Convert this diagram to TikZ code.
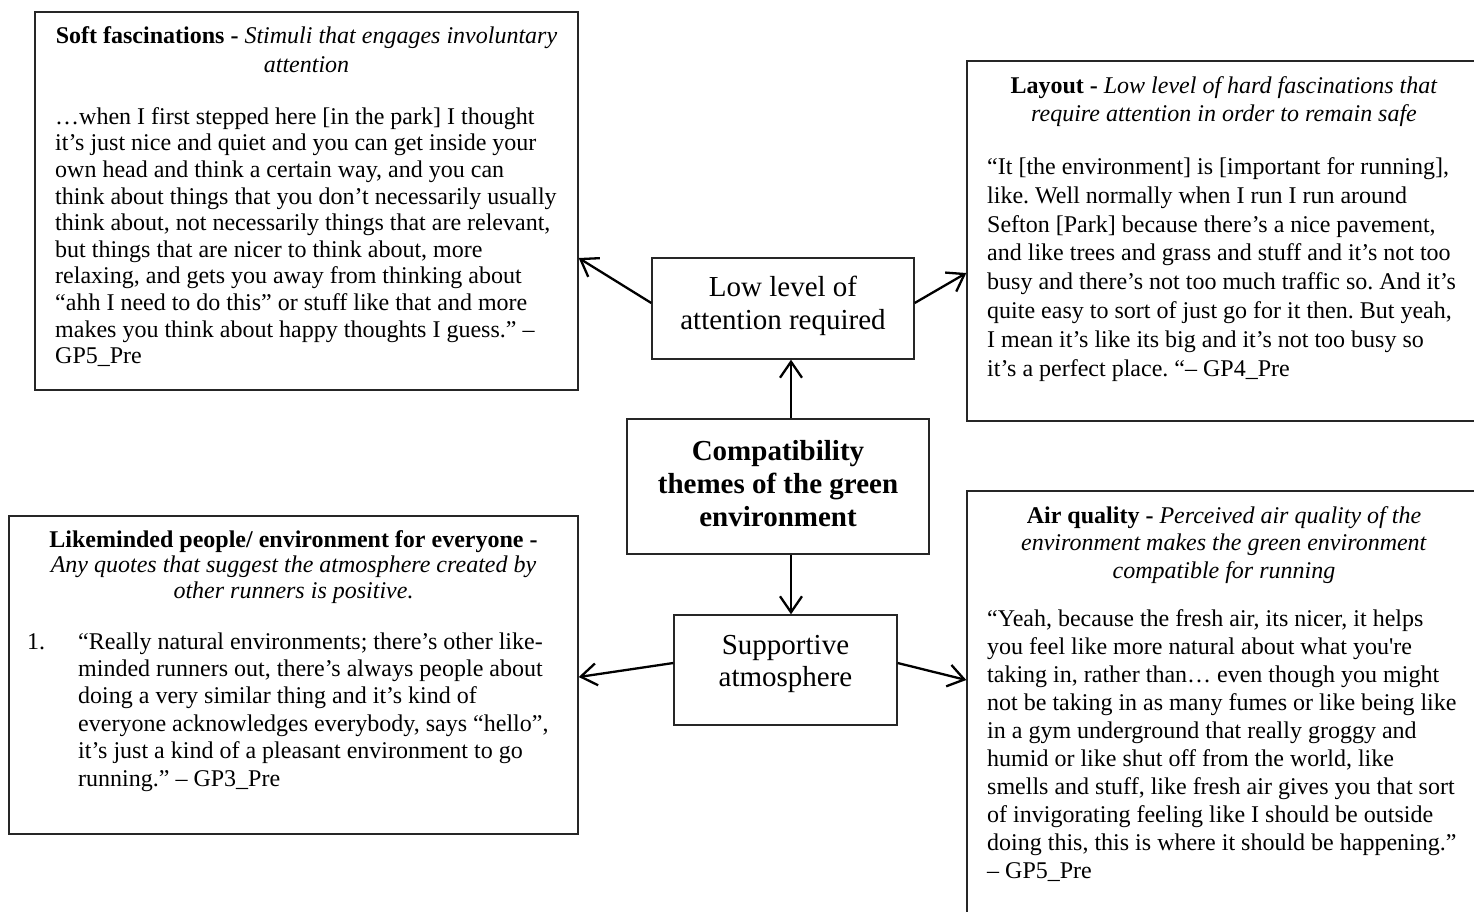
\documentclass[tikz,border=0pt]{standalone}
\usepackage{fontspec}
\setmainfont{Liberation Serif}
% plain family without TeX ligature mapping, for a straight apostrophe
\newfontfamily\plainquote{Liberation Serif}
\usetikzlibrary{arrows.meta}
\frenchspacing

% a depth-only strut that lifts the lines of a centred node a little
\newcommand{\liftby}[1]{\rule[-#1]{0pt}{#1}}

\tikzset{
  frame/.style={draw=black!85, line width=1.4pt, inner sep=0pt},
  hub/.style={frame, align=center, font=\fontsize{29}{33}\selectfont},
  quote/.style={inner sep=0pt, align=left, anchor=north west},
  heading/.style={inner sep=0pt, align=center, anchor=north},
  link/.style={draw=black, line width=2.3pt, -{Straight Barb[length=16pt,width=22pt]}},
}

\begin{document}
\begin{tikzpicture}[x=1pt, y=-1pt]
\clip (0,0) rectangle (1474,911);

% ---- central hub and the two theme boxes ----
\node[hub, minimum width=262pt, minimum height=101pt] (low) at (783,308.5)
  {Low level of\\attention required\liftby{11.5pt}};
\node[hub, minimum width=302pt, minimum height=135pt, font=\fontsize{29}{33}\selectfont\bfseries] (core) at (778,486.5)
  {Compatibility\\themes of the green\\environment\liftby{7pt}};
\node[hub, minimum width=223pt, minimum height=110pt, font=\fontsize{29}{32}\selectfont] (supp) at (785.5,670)
  {Supportive\\atmosphere\liftby{18.5pt}};

% ---- quote boxes ----
\node[frame, minimum width=543pt, minimum height=378pt] (soft) at (306.5,201) {};
\node[frame, minimum width=514pt, minimum height=360pt] (layout) at (1224,241) {};
\node[frame, minimum width=569pt, minimum height=318pt] (like) at (293.5,675) {};
\node[frame, minimum width=514pt, minimum height=439pt] (air) at (1224,710.5) {};

% Soft fascinations
\node[heading, font=\fontsize{24}{29}\selectfont] (softhead) at (306.5,22.7)
  {\strut\textbf{Soft fascinations -} \textit{Stimuli that engages involuntary}\\\textit{attention}};
\node[quote, font=\fontsize{24}{26.6}\selectfont] (softtext) at (55,105.4)
  {\strut…when I first stepped here [in the park] I thought\\
   it’s just nice and quiet and you can get inside your\\
   own head and think a certain way, and you can\\
   think about things that you don’t necessarily usually\\
   think about, not necessarily things that are relevant,\\
   but things that are nicer to think about, more\\
   relaxing, and gets you away from thinking about\\
   “ahh I need to do this” or stuff like that and more\\
   makes you think about happy thoughts I guess.” –\\
   GP5\_Pre};

% Layout
\node[heading, font=\fontsize{24}{28}\selectfont] (layouthead) at (1224,73.4)
  {\strut\textbf{Layout -} \textit{Low level of hard fascinations that}\\\textit{require attention in order to remain safe}};
\node[quote, font=\fontsize{24}{28.9}\selectfont] (layouttext) at (987,153.8)
  {\strut“It [the environment] is [important for running],\\
   like. Well normally when I run I run around\\
   Sefton [Park] because there’s a nice pavement,\\
   and like trees and grass and stuff and it’s not too\\
   busy and there’s not too much traffic so. And it’s\\
   quite easy to sort of just go for it then. But yeah,\\
   I mean it’s like its big and it’s not too busy so\\
   it’s a perfect place. “– GP4\_Pre};

% Likeminded people
\node[heading, font=\fontsize{24}{25.5}\selectfont] (likehead) at (293.5,529.2)
  {\strut\textbf{Likeminded people/ environment for everyone -}\\
   \textit{Any quotes that suggest the atmosphere created by}\\
   \textit{other runners is positive.}};
\node[quote, font=\fontsize{24}{27.4}\selectfont] (likenum) at (27,629.8) {\strut1.};
\node[quote, font=\fontsize{24}{27.4}\selectfont] (liketext) at (78,629.8)
  {\strut“Really natural environments; there’s other like-\\
   minded runners out, there’s always people about\\
   doing a very similar thing and it’s kind of\\
   everyone acknowledges everybody, says “hello”,\\
   it’s just a kind of a pleasant environment to go\\
   running.” – GP3\_Pre};

% Air quality
\node[heading, font=\fontsize{24}{27.5}\selectfont] (airhead) at (1224,503.8)
  {\strut\textbf{Air quality -} \textit{Perceived air quality of the}\\
   \textit{environment makes the green environment}\\
   \textit{compatible for running}};
\node[quote, font=\fontsize{24}{28}\selectfont] (airtext) at (987,606.4)
  {\strut“Yeah, because the fresh air, its nicer, it helps\\
   you feel like more natural about what you{\plainquote '}re\\
   taking in, rather than… even though you might\\
   not be taking in as many fumes or like being like\\
   in a gym underground that really groggy and\\
   humid or like shut off from the world, like\\
   smells and stuff, like fresh air gives you that sort\\
   of invigorating feeling like I should be outside\\
   doing this, this is where it should be happening.”\\
   – GP5\_Pre};

% ---- connectors ----
\coordinate (spine) at (791,0);
\coordinate (aimsoft) at (0,258);
\coordinate (aimlayout) at (0,273);
\coordinate (aimlike) at (0,677);
\coordinate (aimair) at (0,680);
\coordinate (fromlow) at (0,303);
\coordinate (fromsupp) at (0,663);

\draw[link] (core.north -| spine) -- (low.south -| spine);
\draw[link] (core.south -| spine) -- (supp.north -| spine);
\draw[link] (low.west |- fromlow) -- (soft.east |- aimsoft);
\draw[link] (low.east |- fromlow) -- (layout.west |- aimlayout);
\draw[link] (supp.west |- fromsupp) -- (like.east |- aimlike);
\draw[link] (supp.east |- fromsupp) -- (air.west |- aimair);
\end{tikzpicture}
\end{document}
